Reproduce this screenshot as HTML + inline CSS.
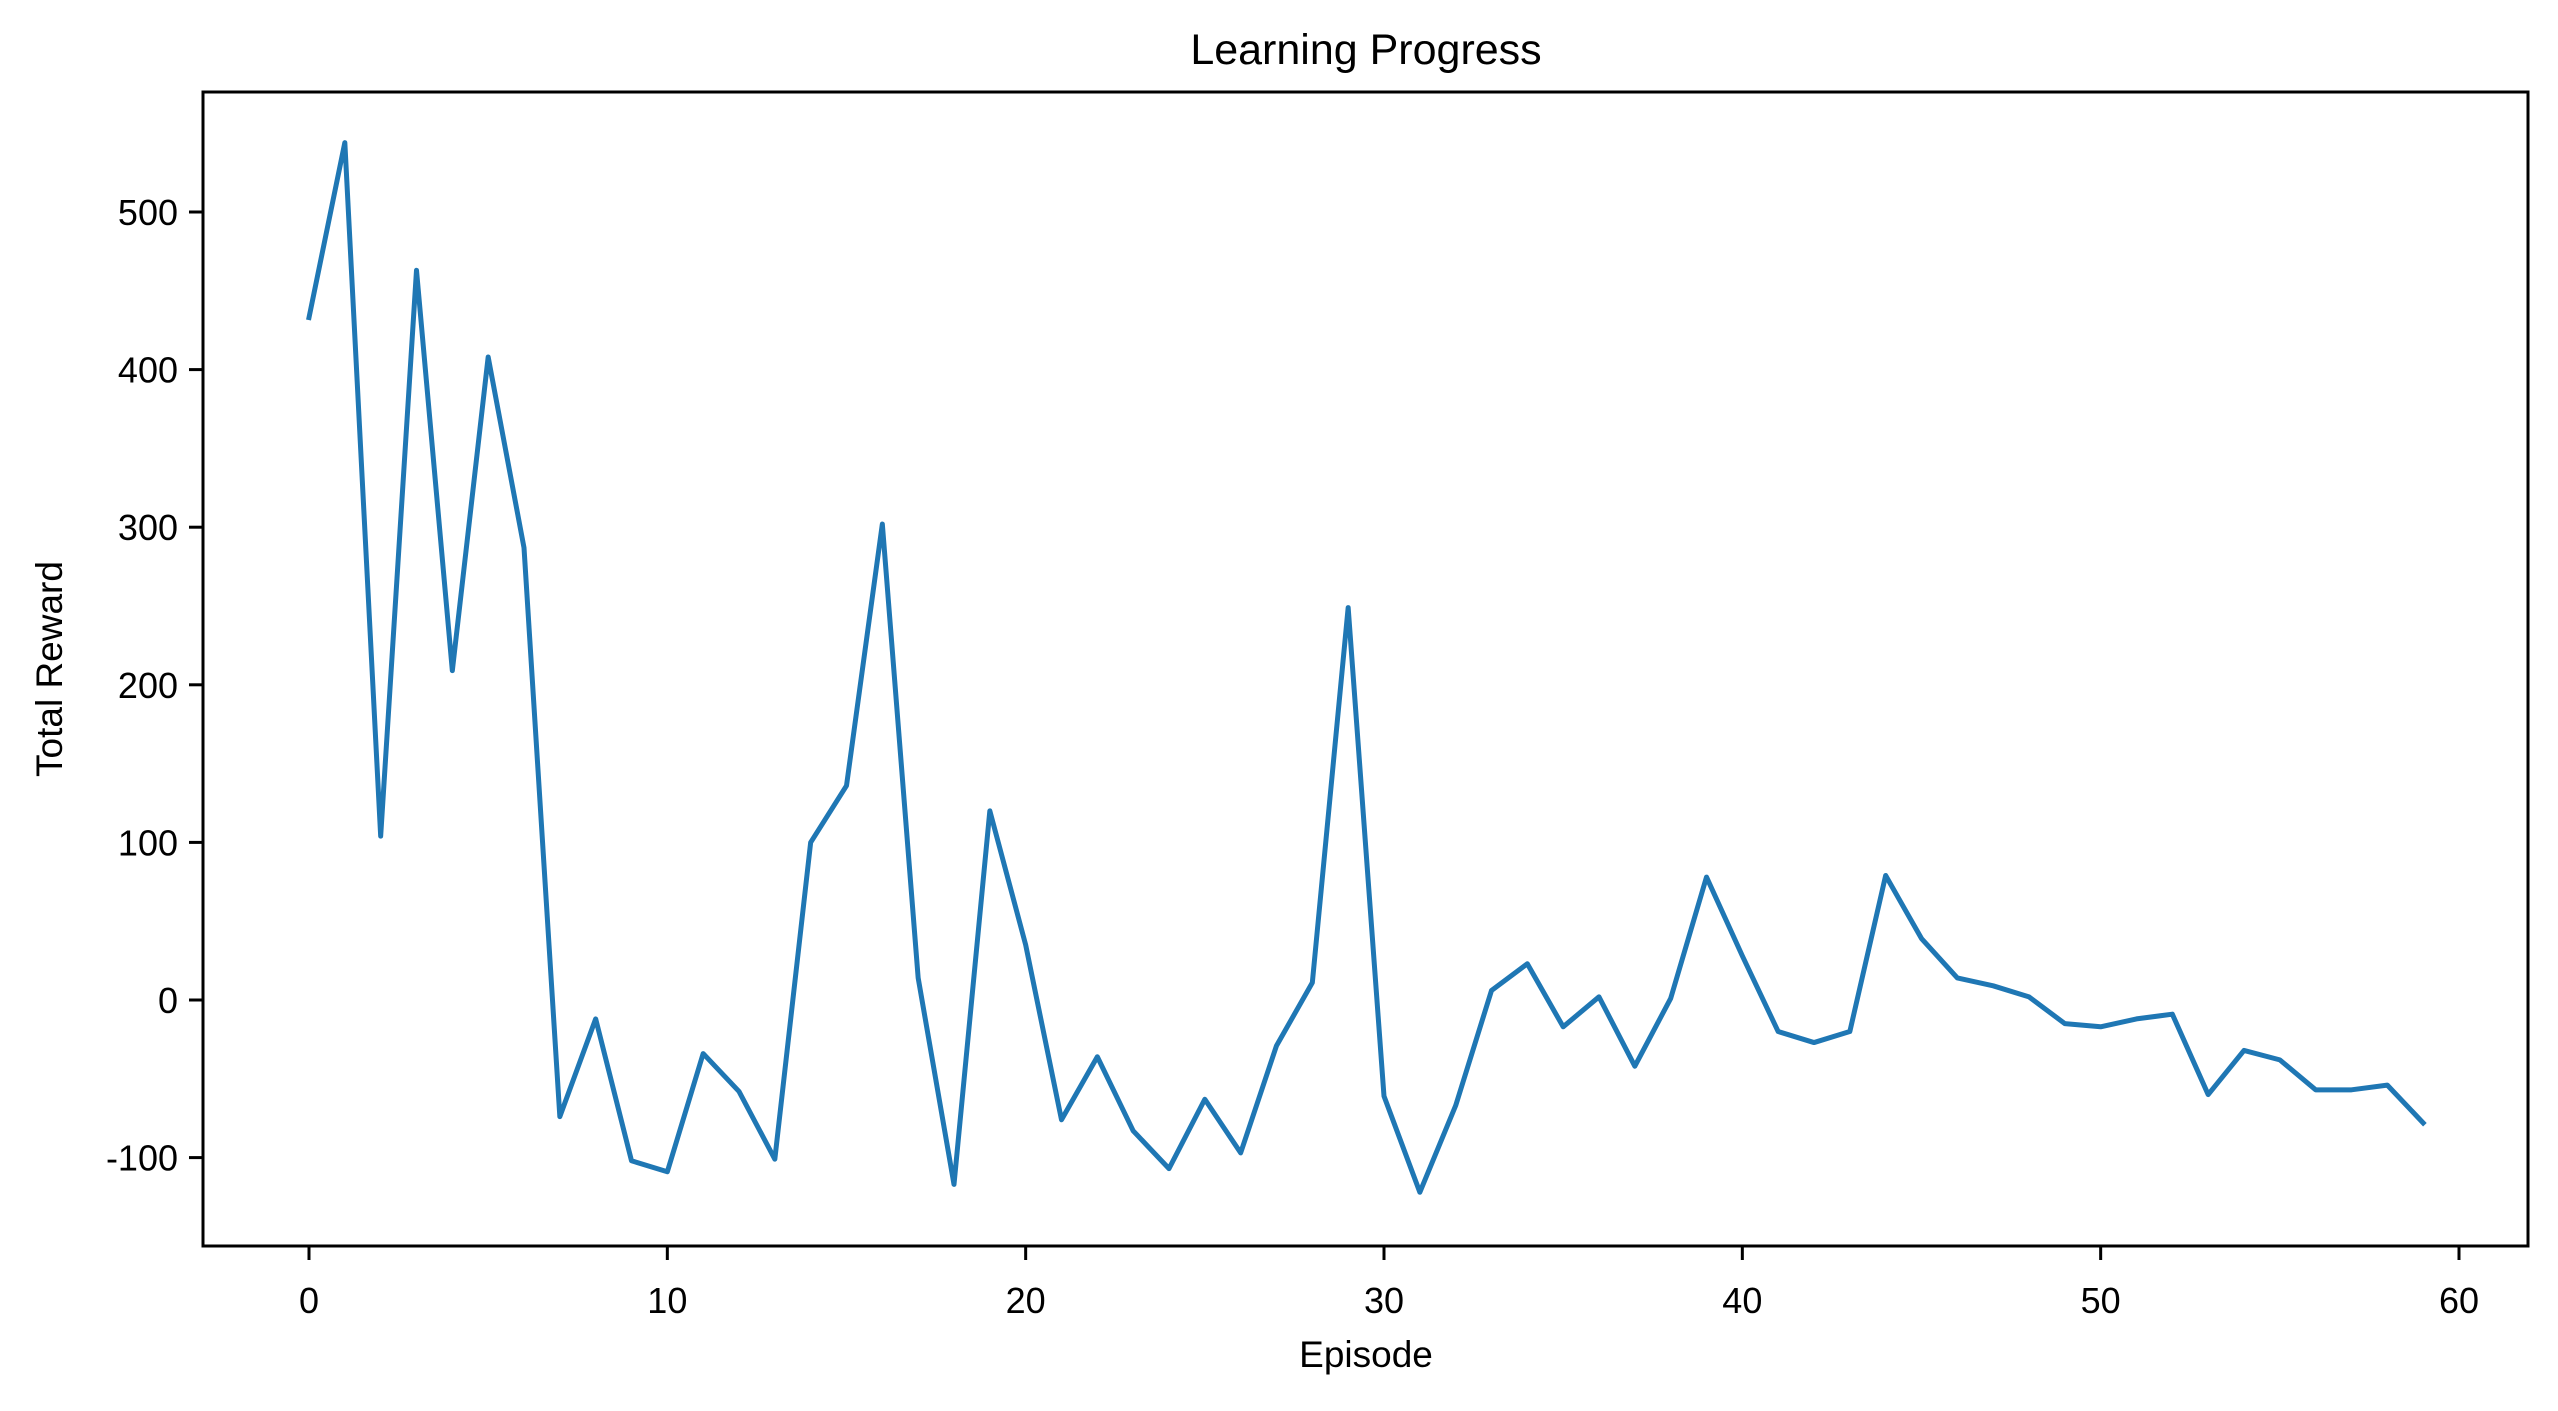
<!DOCTYPE html>
<html><head><meta charset="utf-8"><style>
html,body{margin:0;padding:0;background:#fff;}
svg text{font-family:"Liberation Sans","Noto Sans CJK KR",sans-serif;fill:#000;}
</style></head><body>
<svg id="chart" width="2558" height="1406" xmlns="http://www.w3.org/2000/svg">
<rect width="2558" height="1406" fill="#fff"/>
<text x="1366" y="64" font-size="43" text-anchor="middle">Learning Progress</text>
<text x="1366" y="1367" font-size="37" text-anchor="middle">Episode</text>
<text transform="translate(62,669) rotate(-90)" font-size="37" text-anchor="middle">Total Reward</text>
<g id="ticks"></g>
<polyline id="line" fill="none" stroke="#1f77b4" stroke-width="5" stroke-linejoin="round" stroke-linecap="square"/>
<rect x="203" y="92" width="2325" height="1154" fill="none" stroke="#000" stroke-width="3"/>
</svg>
<script>
const episodes = Array.from({length:60},(_,i)=>i);
const rewards = [433,544,104,463,209,408,287,-74,-12,-102,-109,-34,-58,-101,100,136,302,14,-117,120,35,-76,-36,-83,-107,-63,-97,-29,11,249,-61,-122,-67,6,23,-17,2,-42,1,78,28,-20,-27,-20,79,39,14,9,2,-15,-17,-12,-9,-60,-32,-38,-57,-57,-54,-78];
const xTicks = [0,10,20,30,40,50,60];
const yTicks = [-100,0,100,200,300,400,500];
const NS="http://www.w3.org/2000/svg";
function xs(v){return 309+(2459-309)*v/60;}
function ys(v){return 1000-(1000-212)*v/500;}
const g=document.getElementById('ticks');
xTicks.forEach(t=>{
  const l=document.createElementNS(NS,'line');
  
  
  l.setAttribute('x1',xs(t));l.setAttribute('x2',xs(t));l.setAttribute('y1',1246);l.setAttribute('y2',1260);
  l.setAttribute('stroke','#000');l.setAttribute('stroke-width','3');g.appendChild(l);
  const tx=document.createElementNS(NS,'text');
  
  
  tx.setAttribute('x',xs(t));tx.setAttribute('y',1313);tx.setAttribute('font-size','36');tx.setAttribute('text-anchor','middle');
  tx.textContent=t;g.appendChild(tx);
});
yTicks.forEach(t=>{
  const l=document.createElementNS(NS,'line');
  
  
  l.setAttribute('x1',189);l.setAttribute('x2',203);l.setAttribute('y1',ys(t));l.setAttribute('y2',ys(t));
  l.setAttribute('stroke','#000');l.setAttribute('stroke-width','3');g.appendChild(l);
  const tx=document.createElementNS(NS,'text');
  
  
  tx.setAttribute('x',178);tx.setAttribute('y',ys(t)+13);tx.setAttribute('font-size','36');tx.setAttribute('text-anchor','end');
  tx.textContent=t;g.appendChild(tx);
});
document.getElementById('line').setAttribute('points',episodes.map((e,i)=>xs(e)+','+ys(rewards[i])).join(' '));
</script>
</body></html>
